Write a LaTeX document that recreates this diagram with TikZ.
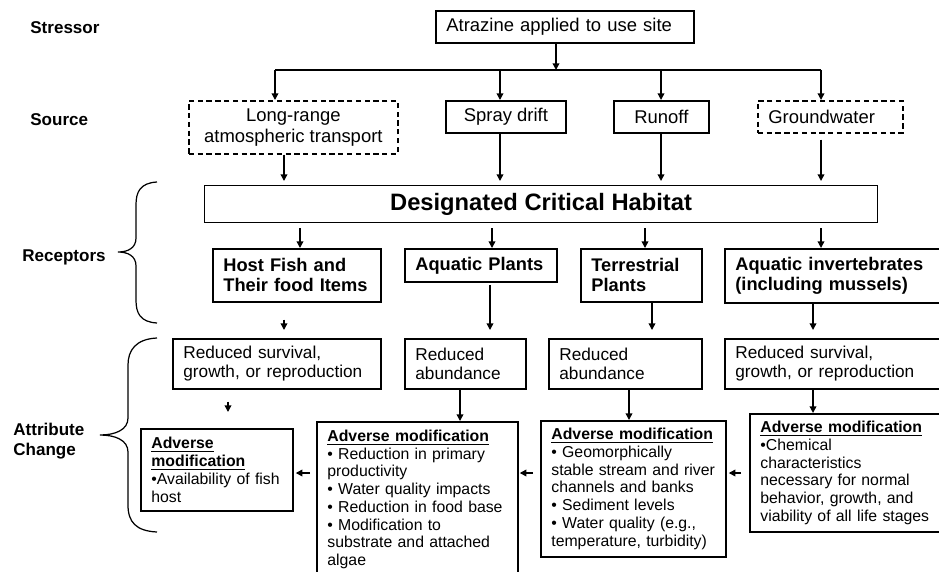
\documentclass[tikz,border=0pt]{standalone}
\usepackage{fontspec}
\setmainfont{Liberation Sans}
\usetikzlibrary{arrows.meta}

\begin{document}
\begin{tikzpicture}[x=0.02cm, y=-0.02cm,
  box/.style={draw, line width=1pt, anchor=north west, inner sep=0pt, inner xsep=0.21cm},
  dbox/.style={box, dash pattern=on 3pt off 2pt},
  arr/.style={line width=0.8pt, -{Triangle[length=3.8pt,width=3.8pt]}},
  lbl/.style={anchor=west, align=left, inner sep=0pt, font=\bfseries\fontsize{9.7}{11.6}\selectfont},
  srcf/.style={align=center, font=\fontsize{10.5}{11.7}\selectfont},
  recf/.style={align=left, font=\bfseries\fontsize{10.4}{11.4}\selectfont},
  redf/.style={align=left, font=\fontsize{9.8}{10.8}\selectfont},
  advf/.style={align=left, font=\fontsize{9}{10.1}\selectfont},
  brace/.style={line width=0.7pt}
]
\useasboundingbox (0,0) rectangle (939,571);
\def\adv{\underline{\textbf{Adverse modification}}}

% Level labels on the left
\node[lbl] (lstress) at (30,28) {Stressor};
\node[lbl] (lsrc) at (30,120) {Source};
\node[lbl] (lrec) at (22,257) {Receptors};
\node[lbl] (lattr) at (13,441) {Attribute\\Change};

% Stressor and sources
\node[box, align=left, font=\fontsize{10.5}{11.7}\selectfont, text width=4.74cm, minimum height=0.64cm] (atz) at (435,10) {Atrazine applied to use site};
\node[dbox, srcf, minimum width=4.18cm, minimum height=1.06cm] (lrt) at (188,100) {Long-range\\atmospheric transport};
\node[box, srcf, minimum width=2.4cm, minimum height=0.64cm] (spray) at (445,100) {Spray drift};
\node[box, srcf, minimum width=1.9cm, minimum height=0.64cm] (runoff) at (613,100) {Runoff};
\node[dbox, align=left, font=\fontsize{10.5}{11.7}\selectfont, text width=2.48cm, minimum height=0.64cm] (gw) at (757,100) {Groundwater};

% Habitat and receptors
\node[box, line width=0.7pt, font=\bfseries\fontsize{13.5}{16}\selectfont, minimum width=13.46cm, minimum height=0.74cm] (hab) at (204,185) {Designated Critical Habitat};
\node[box, recf, text width=2.94cm, minimum height=1.06cm] (fish) at (212,248) {Host Fish and\\Their food Items};
\node[box, recf, text width=2.62cm, minimum height=0.66cm] (aqp) at (404,248) {Aquatic Plants};
\node[box, recf, text width=2.0cm, minimum height=1.06cm] (terp) at (580,248) {Terrestrial\\Plants};
\node[box, recf, text width=4.0cm, minimum height=1.08cm] (inv) at (724,248) {Aquatic invertebrates\\(including mussels)};

% Attribute change
\node[box, redf, text width=3.74cm, minimum height=1.0cm] (red1) at (172,338) {Reduced survival,\\growth, or reproduction};
\node[box, redf, text width=2.0cm, minimum height=1.0cm] (red2) at (404,338) {Reduced\\abundance};
\node[box, redf, text width=2.64cm, minimum height=1.0cm] (red3) at (548,338) {Reduced\\abundance};
\node[box, redf, text width=4.0cm, minimum height=1.0cm] (red4) at (724,338) {Reduced survival,\\growth, or reproduction};

\node[box, advf, text width=2.62cm, minimum height=1.64cm] (adv1) at (140,428) {\underline{\textbf{Adverse}}\\\underline{\textbf{modification}}\\•Availability of fish\\host};
\node[box, advf, text width=3.6cm, minimum height=3.1cm] (adv2) at (316,421) {\adv\\• Reduction in primary\\productivity\\• Water quality impacts\\• Reduction in food base\\• Modification to\\substrate and attached\\algae};
\node[box, advf, text width=3.28cm, minimum height=2.72cm] (adv3) at (540,420) {\adv\\• Geomorphically\\stable stream and river\\channels and banks\\• Sediment levels\\• Water quality (e.g.,\\temperature, turbidity)};
\node[box, advf, text width=3.5cm, minimum height=2.36cm] (adv4) at (749,413) {\adv\\•Chemical\\characteristics\\necessary for normal\\behavior, growth, and\\viability of all life stages};

% Stressor to sources
\coordinate (bus) at (556,70);
\coordinate (b1) at (275,70);
\coordinate (b2) at (500,70);
\coordinate (b3) at (661,70);
\coordinate (b4) at (821,70);
\draw[arr] (atz.south -| bus) -- (bus);
\draw[line width=0.8pt] (b1) -- (b4);
\draw[arr] (b1) -- (b1 |- lrt.north);
\draw[arr] (b2) -- (b2 |- spray.north);
\draw[arr] (b3) -- (b3 |- runoff.north);
\draw[arr] (b4) -- (b4 |- gw.north);

% Sources to habitat
\draw[arr, shorten >=0.08cm] (lrt.south -| 284,0) -- (hab.north -| 284,0);
\draw[arr, shorten >=0.08cm] (spray.south -| 500,0) -- (hab.north -| 500,0);
\draw[arr, shorten >=0.08cm] (runoff.south -| 661,0) -- (hab.north -| 661,0);
\draw[arr, shorten <=0.12cm, shorten >=0.08cm] (gw.south -| 821,0) -- (hab.north -| 821,0);

% Habitat to receptors
\draw[arr, shorten <=0.1cm] (hab.south -| 300,0) -- (fish.north -| 300,0);
\draw[arr, shorten <=0.1cm] (hab.south -| 492,0) -- (aqp.north -| 492,0);
\draw[arr, shorten <=0.1cm] (hab.south -| 645,0) -- (terp.north -| 645,0);
\draw[arr, shorten <=0.1cm] (hab.south -| 821,0) -- (inv.north -| 821,0);

% Receptors to effects
\draw[arr, shorten <=0.34cm, shorten >=0.16cm] (fish.south -| 284,0) -- (red1.north -| 284,0);
\draw[arr, shorten <=0.04cm, shorten >=0.16cm] (aqp.south -| 490,0) -- (red2.north -| 490,0);
\draw[arr, shorten >=0.16cm] (terp.south -| 652,0) -- (red3.north -| 652,0);
\draw[arr, shorten >=0.16cm] (inv.south -| 813,0) -- (red4.north -| 813,0);

\draw[arr, shorten <=0.24cm, shorten >=0.32cm] (red1.south -| 228,0) -- (adv1.north -| 228,0);
\draw[arr] (red2.south -| 460,0) -- (adv2.north -| 460,0);
\draw[arr] (red3.south -| 629,0) -- (adv3.north -| 629,0);
\draw[arr] (red4.south -| 813,0) -- (adv4.north -| 813,0);

\draw[arr, shorten <=0.12cm, shorten >=0.04cm] (adv2.west |- 0,473) -- (adv1.east |- 0,473);
\draw[arr, shorten <=0.14cm, shorten >=0.02cm] (adv3.west |- 0,473) -- (adv2.east |- 0,473);
\draw[arr, shorten <=0.16cm, shorten >=0.04cm] (adv4.west |- 0,473) -- (adv3.east |- 0,473);

% Braces
\draw[brace] (157,182) .. controls (140,183) and (136,192) .. (136,205) -- (136,238)
  .. controls (136,248) and (128,252) .. (118,252) .. controls (128,252) and (136,256) .. (136,266)
  -- (136,300) .. controls (136,313) and (140,322) .. (157,323);
\draw[brace] (157,338) .. controls (136,339) and (128,350) .. (128,365) -- (128,418)
  .. controls (128,430) and (115,435) .. (100,435) .. controls (115,435) and (128,440) .. (128,452)
  -- (128,505) .. controls (128,522) and (136,531) .. (157,532);
\end{tikzpicture}
\end{document}
